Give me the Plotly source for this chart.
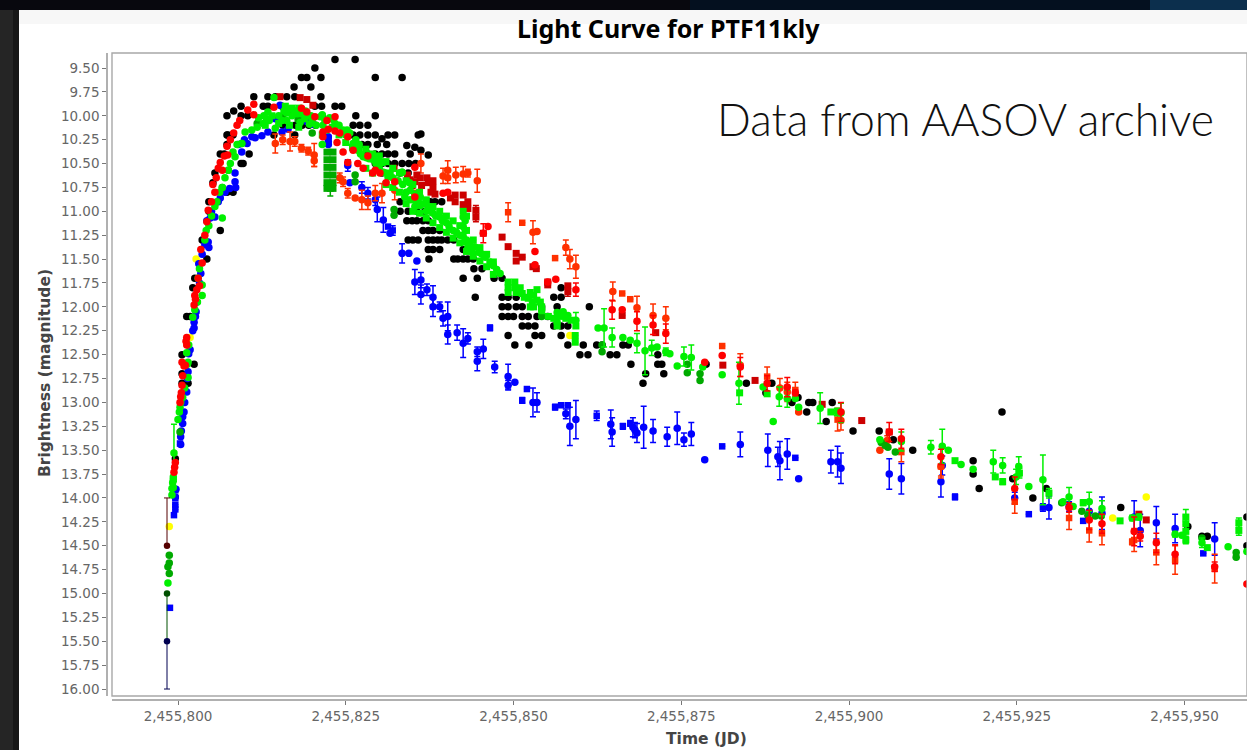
import plotly.graph_objects as go

JD_BASE = 2455800
TITLE = "Light Curve for PTF11kly"
NOTE = "Data from AASOV archive"
X_TITLE = "Time (JD)"
Y_TITLE = "Brightness (magnitude)"
X_TICKS = [2455800, 2455825, 2455850, 2455875, 2455900, 2455925, 2455950]
Y_TICKS = [9.5, 9.75, 10, 10.25, 10.5, 10.75, 11, 11.25, 11.5, 11.75, 12, 12.25, 12.5, 12.75,
           13, 13.25, 13.5, 13.75, 14, 14.25, 14.5, 14.75, 15, 15.25, 15.5, 15.75, 16]

# (days after JD 2455800, magnitude) ------------------------------------------------
black = [
 (23.4,9.41),(26.4,9.41),(20.4,9.5),(18.4,9.6),(19.2,9.6),(21.3,9.6),(29.4,9.6),(33.4,9.6),(17.3,9.7),(19.8,9.7),
 (11.3,9.8),(13.4,9.8),(14.5,9.8),(16.2,9.8),(17.4,9.8),(21.3,9.8),
 (9.4,9.9),(12.7,9.9),(13.4,9.9),(15.5,9.9),(20.4,9.9),(21.4,9.9),(23.4,9.9),(24.4,9.9),(8.3,9.95),
 (7.3,10),(9.4,10),(10.4,10),(21.5,10),(26.5,10),(29.4,10),
 (15.6,10.1),(16.5,10.1),(17.5,10.1),(18.5,10.1),(19.5,10.1),(20.5,10.1),(26.1,10.1),(27.1,10.1),(28.3,10.1),
 (7.3,10.2),(8,10.2),(14.3,10.2),(17.4,10.2),(26.1,10.2),(27.1,10.2),(28.3,10.2),(29.4,10.2),(31.3,10.2),(32.3,10.2),(35.8,10.2),(36.2,10.19),
 (27.4,10.3),(28.3,10.3),(29.7,10.3),(31.1,10.3),(34.1,10.31),(35.3,10.33),(36.2,10.36),(37.3,10.41),(30.4,10.24),
 (6.3,10.4),(6.9,10.4),(10.6,10.4),(28.3,10.4),(29.4,10.4),(30.4,10.4),(31.3,10.4),(32.3,10.4),(34.6,10.4),
 (9.7,10.5),(29.4,10.5),(30.4,10.5),(31.3,10.5),(32.3,10.5),(33.4,10.5),(34.4,10.5),(35.4,10.5),
 (5.5,10.6),(30.4,10.6),(33.1,10.6),(34.3,10.6),(5.2,10.7),(8.2,10.8),(7.3,10.8),(4.6,11),(6.3,11.2),(3.6,11.3),
 (33.1,10.9),(37.6,10.9),(38.3,10.9),(39.3,10.9),(33.1,11),(34.3,11),(35.6,11),(36.8,11),
 (34.1,11.1),(34.9,11.1),(35.6,11.1),(36.5,11.1),(37.3,11.1),(36.5,11.2),(37.3,11.2),(38,11.2),(39,11.2),
 (34.3,11.3),(35,11.3),(35.8,11.3),(37.3,11.3),(38,11.3),(38.7,11.3),(39.3,11.3),(40.2,11.3),(41.1,11.3),
 (37.3,11.4),(38,11.4),(39,11.4),(42.5,11.4),(37.4,11.5),(41.1,11.5),(41.7,11.5),(42.5,11.5),(43.2,11.5),(44,11.5),
 (44.1,11.6),(45.3,11.6),(42.5,11.7),(44.6,11.7),(47.1,11.7),(48.3,11.7),(44.3,11.9),
 (57.1,11.8),(61.3,12),(48.3,11.9),(49.2,11.9),(50.4,11.9),(56,11.9),(57.1,11.9),
 (48.3,12),(49.2,12),(50.4,12),(51.3,12),(54.2,12),(56.5,12),
 (48.3,12.1),(49.2,12.1),(50,12.1),(51.3,12.1),(52.2,12.1),(53.5,12.1),(55.1,12.1),
 (51.3,12.2),(52.2,12.2),(53.2,12.2),(56,12.2),(57.1,12.2),(58.1,12.2),
 (49.2,12.3),(53.2,12.3),(54.2,12.3),(57.1,12.3),
 (50.2,12.4),(52.3,12.4),(58.1,12.4),(60.4,12.4),(62.4,12.4),(63.2,12.4),(66.3,12.4),(67.1,12.4),
 (59.9,12.5),(61.1,12.5),(64.4,12.5),(65.4,12.5),(71.5,12.5),(67.5,12.6),(71.5,12.6),(72.1,12.6),
 (69.7,12.7),(72.4,12.7),(69.3,12.8),(78.7,12.6),(84.7,12.8),(88.5,12.8),(87.6,12.9),(91.5,13),(92.4,12.95),(93.7,13.1),
 (94,13),(94.6,13),(97.5,13),(96.6,13.2),(100.6,13.3),(104.5,13.3),(106.6,13.39),(109.5,13.5),
 (122.8,13.1),(118.5,13.61),(118.5,13.75),(119.4,13.9),(124.4,13.8),(127.4,14),(129.4,13.9),(140.5,14.1),(150.5,14.3),
 (152.6,14.4),(153.4,14.4),(159.3,14.2),(159.3,14.5),
 (2.5,11.7),(2.2,11.8),(1.3,12.1),(1.8,12.1),(0.6,12.5),(2.4,12.6),(0.6,12.7),(1.5,12.8),(0.6,12.8),(-0.4,13.59),(4.3,11.5),
 (4.6,10.9),(7.4,10.2),(8.2,10.2),(7.3,10.3),(9.4,10.5),
]
yellow = [(-1.3,14.3),(2.7,11.5),(58.4,12.3),(139.3,14.21),(144.3,13.99),(1.8,12.32)]

# (days, magnitude, error half-height) ----------------------------------------------
blue_circles = [
 (29.7,10.98,.13),(30.6,11.09,.13),(31.6,11.23,0),(33.4,11.44,.1),(34.4,11.44,0),(35.6,11.52,0),(35.3,11.74,.13),(36.2,11.72,.08),
 (36.2,11.87,.1),(37.1,11.82,.06),(38,11.9,.12),(38,12,.1),(39,12,.05),(39.5,12.12,.08),(40.2,12.1,.15),(40.2,12.29,.1),(41.6,12.27,.08),
 (42.5,12.38,.15),(43.2,12.33,.06),(44.6,12.47,.05),(45.5,12.44,.1),(44.6,12.57,.1),(47.2,12.63,.06),
 (25.6,10.7,0),(27.4,10.75,.06),(28.3,10.81,.06),(29.4,10.88,.06),(25.3,10.52,.06),(22.4,10.22,0),(22.4,10.27,0),
 (49.2,12.73,.13),(49.2,12.82,.05),(50.2,12.79,0),(52.9,13,.15),(53.5,13,.1),(57.8,13.12,.05),(58.4,13.25,.2),(59.3,13.18,.2),
 (64.5,13.23,.15),(64.7,13.31,.15),(67.8,13.26,.1),(68.1,13.29,.08),(68.4,13.32,.1),(69.4,13.26,.22),(70.8,13.3,.12),(72.9,13.36,.1),
 (74.4,13.27,.17),(75.4,13.39,.07),(76.5,13.33,.12),(78.5,13.6,0),(83.8,13.44,.13),(87.9,13.5,.17),(89.4,13.57,.1),(89.7,13.61,.2),
 (90.8,13.54,.16),(92.5,13.8,0),(97.3,13.62,.12),(98.3,13.62,.16),(98.8,13.69,.16),(106,13.75,.16),(107.8,13.8,.16),(113.7,13.83,.16),
 (113.9,13.66,.1),(124.7,14,.06),(129.8,14.1,.12),(132.8,14.09,.05),(135.8,14.14,.1),(137.7,14.16,.17),(142.5,14.2,.17),(143.4,14.34,.17),
 (145.8,14.26,.17),(148.6,14.32,.15),(154.5,14.43,.17),
 (14.5,10.03,0),(13.4,10.17,0),(12.5,10.21,0),(11.5,10.23,0),(10.3,10.29,0),(9.5,10.38,0),(8.5,10.6,0),(8.5,10.69,0),(8.6,10.75,0),(7.7,10.76,0),
 (6.3,10.86,0),(5.5,11.06,0),(4.8,11.07,0),(4.5,11.32,0),(4.6,11.38,0),(15.5,10.17,0),(16.4,10.14,0),(18.2,10.04,0),(19.2,10.06,0),(20.1,10.09,0),
 (15.2,9.89,0),(22.4,10.23,.08),(22.4,10.3,0),
 (3.4,11.65,0),(2.8,11.95,0),(2.7,12.05,0),(2.4,12.16,0),(2.4,12.22,0),(1.6,12.49,0),(1.5,12.68,0),(1.3,12.89,0),(.7,13.15,0),(.7,13.22,0),
 (.4,13.36,0),(.4,13.44,0),(-.3,13.91,0),(-.4,13.99,0),
 (7,10.8,0),(6,10.9,0),(9,10.3,0),(9.9,10.25,0),(11,10.22,0),(3.1,11.55,0),(4,11.35,0),(4.3,11.1,0),(5,11,0),(3.6,11.45,0),(2.6,12.1,0),(2.2,12.25,0),
 (1.8,12.45,0),(1.4,12.75,0),(1,13,0),(.9,13.1,0),(.5,13.3,0),(3.2,11.75,0),
]
blue_squares = [
 (31.3,11.16,0),(32,11.2,.05),(46.5,12.22,.03),(52,12.86,0),(51.3,12.98,.03),(56.2,13.05,.03),(57.1,13.03,0),(58.1,13.03,0),(62.4,13.14,.05),
 (66.3,13.25,.03),(67.4,13.22,.03),(81.1,13.46,0),(92,13.58,0),(115.8,13.99,.03),(126.8,14.17,0),(128.9,14.1,.04),(134.9,14.24,0),(152.8,14.58,0),
 (.3,13.43,0),(-.4,13.92,0),(-.4,14,0),(-.4,14.07,0),(-.4,14.12,0),(-.6,14.18,0),(-1.2,15.15,0),
]
orange_circles = [
 (14.5,10.29,.1),(15.6,10.25,.05),(16.7,10.27,.1),(17.4,10.27,.05),(18.4,10.34,.04),(19.4,10.37,.04),(20.3,10.41,.12),(20.3,10.47,.06),
 (24.1,10.65,.05),(24.6,10.69,.05),(25.3,10.81,.05),(26.4,10.86,0),(27.4,10.88,.1),(28.3,10.91,.07),(29.4,10.81,.08),(30.4,10.81,.1),(32.3,10.78,.1),
 (35.3,10.81,0),(36.2,10.5,.1),(39.5,10.63,.08),(40.2,10.57,.1),(40.2,10.65,.06),(41.4,10.62,.08),(42.5,10.61,.08),(43.2,10.6,.04),(44.6,10.68,.12),
 (52.9,11.22,.12),(53.5,11.21,0),(57.8,11.38,.08),(58.4,11.5,.1),(59.3,11.58,.12),(64.8,11.84,.1),(68.4,12.01,.12),(70.8,12.09,.12),(72.7,12.12,.12),
 (83.8,12.61,.12),(89.7,12.85,.1),(90.8,12.89,.1),(92.5,13.1,0),(98.8,13.19,.1),(104.6,13.5,0),(105.7,13.4,.05),(113.7,13.67,.1),
]
orange_squares = [
 (49.2,11.01,.1),(51.3,11.12,0),(56.2,11.49,0),(66.2,11.86,0),(67.4,11.92,0),(81.1,12.41,0),(87.8,12.73,.1),(92,12.87,.08),(98.3,13.18,.12),(107.8,13.52,.1),
 (113.7,13.67,.12),(124.7,14.04,.12),(132.8,14.21,.12),(135.8,14.34,.12),(137.7,14.37,.12),(142.2,14.46,.03),(142.5,14.44,.12),(145.8,14.57,.13),(148.6,14.65,.15),(154.5,14.74,.15),
]
red_circles = [
 (10.4,9.94,0),(11.3,9.88,0),(11.3,9.99,0),(8.8,10.1,0),(7.3,10.32,0),(7.4,10.41,0),(6.3,10.49,0),(6.6,10.57,0),(5.2,10.72,0),(5.5,10.8,0),
 (4.5,10.99,0),(4.3,11.11,0),(3.4,11.4,0),(14.3,9.91,0),(18.4,9.92,0),(19.2,9.96,0),(20.4,10.01,0),(22.2,10.05,0),(23.4,10.01,0),(23.4,10.16,0),
 (21.6,10.17,0),(21.6,10.22,0),(22.4,10.14,0),(23.7,10.28,0),(24.1,10.18,0),(25.3,10.22,0),(24.6,10.38,0),(25.3,10.49,0),(26.1,10.36,0),(28.3,10.42,0),
 (29.4,10.57,0),(32.3,10.69,0),(35.3,10.54,0),(35.3,10.85,0),(30.1,10.6,0),(39.5,10.81,0),(40.2,10.8,0),(45.5,11.23,.1),(46.2,11.16,0),(53.2,11.42,0),
 (53.2,11.56,0),(55.1,11.74,0),(56.3,11.71,0),(59.3,11.82,.07),(64.7,12.03,.1),(66.2,12.03,0),(68.4,12.15,.1),(70.8,12.19,.1),(72.7,12.28,.1),(78.5,12.58,0),
 (81.1,12.51,0),(83.8,12.63,.1),(87.8,12.8,.08),(90.8,12.84,.1),(92,12.9,.03),(98.8,13.1,.1),(106,13.31,.1),(107.8,13.38,.1),(113.7,13.57,.08),
 (124.7,13.9,.12),(132.8,14.1,.05),(135.8,14.23,.1),(137.7,14.27,.1),(142.5,14.35,.15),(143.4,14.4,.05),(145.8,14.47,.1),(148.6,14.59,.1),(154.5,14.72,.05),(159.3,14.9,0),
 (3.6,11.54,0),(2.8,11.82,0),(2.5,11.88,0),(2.4,11.98,0),(1.3,12.32,0),(1.3,12.4,0),(.6,12.58,0),(1.1,12.61,0),(.6,12.82,0),(.4,12.94,0),(-.4,13.63,0),(-.6,13.73,0),
 (5,10.9,0),(5.7,10.65,0),(6,10.55,0),(6.9,10.42,0),(7.8,10.25,0),(8.3,10.18,0),(9.2,10.05,0),(4,11.25,0),(3,11.7,0),(3.2,11.78,0),(2.6,11.92,0),(1.2,12.36,0),(.9,12.62,0),
 (.7,12.72,0),(.5,12.9,0),(.3,13,0),(-.5,13.68,0),(26.8,10.5,0),(27.6,10.55,0),(29,10.6,0),(31,10.7,0),
]
darkred_squares = [
 (18.2,9.81,0),(19.2,9.83,0),(20.1,9.89,0),(15.2,9.8,0),(32.2,10.55,0),(34.6,10.67,0),(35.3,10.69,0),(36.1,10.65,0),(37.1,10.65,0),(38,10.75,0),
 (34.9,10.73,0),(35.6,10.62,0),(36.3,10.73,0),(37.3,10.7,0),(38,10.68,0),(38.3,10.82,0),(41.3,10.9,0),(42.5,10.93,0),(43.2,10.9,0),(42.5,10.83,0),(44.4,10.99,.05),(44.4,11.06,.05),
 (45.5,11.23,0),(48.3,11.27,0),(49.2,11.37,0),(50.4,11.44,0),(50.4,11.52,0),(51.3,11.48,0),(52.9,11.58,0),(53.4,11.6,0),(55.1,11.74,0),(55.1,11.77,0),(58.1,11.78,0),(58.1,11.84,.05),
 (66.2,12.09,0),(71.2,12.27,0),(81.2,12.61,0),(86,12.77,0),(96,13.02,0),(101.9,13.19,0),(106,13.31,0),(143.2,14.17,0),(144.3,14.23,0),
 (41.3,10.83,0),(43.2,10.97,0),(40.6,10.86,0),(34.2,10.62,0),(37.7,10.8,0),
]
green_circles = [
 (21.2,10.01,0),(21.6,10.1,0),(23.1,10.04,0),(24.6,10.15,0),(25.6,10.18,0),(26.1,10.29,0),(26.8,10.36,0),(27.6,10.43,0),(29.1,10.46,0),(29.9,10.47,0),(30.6,10.59,0),(31.3,10.64,0),(33.4,10.59,0),
 (34.6,10.78,0),(34.6,10.88,0),(35.3,10.82,0),(36.1,10.85,0),(36.1,10.94,0),(37.3,10.95,0),(38,11.02,0),(39,11.06,0),(40,11.12,0),(41,11.2,0),(42.5,11.06,0),(42.5,11.16,0),(42.5,11.26,0),
 (43.5,11.33,0),(43,11.3,0),(43.8,11.41,0),(45.3,11.45,0),(46.5,11.53,0),(47.5,11.61,0),
 (6.6,11.07,0),(5.5,10.95,0),(7.5,10.57,0),(6.6,10.75,0),(8.5,10.43,0),(9.5,10.29,0),(10,10.17,0),(11.8,10.12,0),(12.7,10.08,0),(13.4,9.96,0),(13.2,10.03,0),(14.3,9.81,0),(14.5,10.13,0),
 (15.5,10.05,0),(16.2,9.97,0),(16.2,10.05,0),(17,10,0),(17.8,9.98,0),(18.2,10.07,0),(18.9,10.03,0),(19.6,10.09,0),(20,10.04,0),(21.5,9.99,0),(21.5,10.3,0),(23.4,10.08,0),(25.2,10.15,0),(28.1,10.44,0),(30.1,10.49,0),(30.6,10.49,0),(31.6,10.6,0),(33.4,10.59,0),(33.8,10.85,0),(35.3,10.95,0),
 (56.5,12.06,0),(57.4,12.05,0),(58.1,12.09,0),(59.3,12.14,.08),(56.5,12.16,0),(62.6,12.22,0),(63.5,12.22,.2),(64.7,12.32,.1),(66.3,12.32,0),(67.4,12.35,0),(68.4,12.38,.1),(69.6,12.46,.25),(70.6,12.43,.08),(71.4,12.42,0),
 (72.7,12.47,.04),(73.3,12.49,0),(74.4,12.62,0),(75.4,12.52,.1),(76.5,12.53,.13),(78.2,12.63,0),(81.1,12.71,0),(83.6,12.8,.22),(87.2,12.84,0),(88.7,13.2,0),(89.6,12.94,.1),(90.8,12.96,.09),(92,12.96,0),(92.5,13.05,0),
 (95.7,13.06,.16),(98.2,13.1,.04),(98.8,13.11,.1),(104.6,13.39,0),(107.8,13.41,.1),(112.2,13.47,.07),(113.9,13.46,.18),(114.8,13.5,0),(116.7,13.65,0),(118.5,13.7,0),
 (121.5,13.62,.12),(122.9,13.66,.08),(124.9,13.78,.08),(125.3,13.67,.1),(126.8,13.88,0),(128.9,13.81,.26),(132.8,13.99,.1),(133.4,14.09,0),(131.9,14.04,0),(135.8,14.04,.1),(137.7,14.11,.08),(142.2,14.21,.03),(143.2,14.2,.03),
 (148.6,14.38,.03),(149.6,14.39,0),(152.6,14.47,.05),(156.5,14.51,0),(159.3,14.56,0),
 (3.6,11.77,0),(3.6,11.88,0),(2.5,12.03,0),(2.2,12.11,0),(1.3,12.48,0),(1.5,12.58,0),(1.5,12.74,0),(.3,13.05,0),(0,13.18,0),(-.6,13.53,.3),(-.7,13.81,0),(-.7,13.89,0),(-.7,13.78,0),(-.8,13.84,0),(-.9,13.9,0),(-.9,13.97,0),
 (-1.5,14.89,0),
 (27.2,10.4,0),(28.5,10.45,0),(29.5,10.5,0),(30,10.55,0),(31,10.6,0),(32,10.65,0),(32.8,10.68,0),(33.5,10.72,0),(34,10.8,0),(34.5,10.7,0),(35,10.88,0),(35.8,10.9,0),(36.6,10.92,0),
 (37,11,0),(37.7,11,0),(38.4,11.05,0),(39.4,11.1,0),(40.4,11.16,0),(41.5,11.22,0),(42,11.25,0),(42.8,11.1,0),(42.8,11.2,0),(42.8,11.32,0),(43.2,11.38,0),(44.2,11.37,0),(44.8,11.43,0),(45.8,11.48,0),(47,11.57,0),(48,11.65,0),
 (11,10.15,0),(12,10.02,0),(12.8,10,0),(13.6,10.05,0),(15,10,0),(15.8,9.95,0),(16.6,9.93,0),(17.4,9.95,0),(18.4,9.98,0),(19,9.95,0),(19.8,10,0),(20.6,10.1,0),(21.9,10.05,0),(22.6,10.02,0),(24,10.1,0),(25,10.2,0),(26.5,10.25,0),(27,10.3,0),
 (4,11.3,0),(4.2,11.2,0),(4.6,11.15,0),(5,11.05,0),(5.8,10.9,0),(6.2,10.8,0),(7,10.65,0),(7.8,10.5,0),(8.2,10.38,0),(8.8,10.3,0),(2.9,11.95,0),(3,11.7,0),(3.2,11.6,0),(1.6,12.4,0),(1.4,12.6,0),
 (1,12.85,0),(.7,12.95,0),(.4,13,0),(.2,13.1,0),
]
green_squares = [
 (49.2,11.74,0),(49.2,11.85,0),(50.2,11.74,0),(50.4,11.85,0),(51.3,11.86,0),(52.2,11.91,0),(53.5,11.82,0),(53.5,11.93,0),(52.8,11.95,0),(54.2,12,0),(54.2,12.04,0),(59.2,12.37,0),(59.2,12.3,0),
 (49.2,11.8,0),(50.2,11.8,0),(51,11.8,0),(51.6,11.9,0),(52.5,11.85,0),(53,11.88,0),(53,12,0),(52.5,12,0),(54,11.95,0),(55.2,12.1,0),(56,12.12,0),(56.5,12.2,0),(57,12.1,0),(57.8,12.12,0),(58.6,12.14,0),(59.3,12.2,0),
 (83.7,12.9,0),(87.8,12.91,0),(97.3,13.1,0),(115.8,13.61,0),(121.8,13.78,0),(122.9,13.83,.03),(125.4,13.74,.05),(129.8,13.95,.05),(134.9,14.05,.03),(140.4,14.24,0),
 (150.2,14.2,.08),(150.2,14.27,.08),(150.2,14.35,.1),(150.2,14.44,.04),(153.4,14.52,0),(158.1,14.26,.05),(158.1,14.34,.05),
 (28,10.35,0),(28,10.55,0),(29,10.4,0),(29,10.6,0),(30,10.42,0),(31,10.48,0),(31,10.72,0),(32,10.55,0),(32,10.75,0),(33,10.6,0),(33,10.8,0),(34,10.68,0),(34,10.92,0),(35,10.72,0),(35,11,0),
 (36,10.8,0),(36,11.02,0),(37,10.88,0),(37,11.07,0),(38,10.95,0),(38,11.12,0),(39,11,0),(39,11.17,0),(40,11.05,0),(40,11.22,0),(41,11.1,0),(41,11.28,0),(42,11.15,0),(42,11.33,0),(42.5,11,0),
 (43,11.05,0),(43,11.2,0),(43,11.42,0),(44,11.3,0),(44,11.47,0),(45,11.38,0),(45,11.52,0),(46,11.45,0),(46,11.58,0),(47,11.53,0),(47,11.66,0),
 (15,10.08,0),(16,9.9,0),(17,9.92,0),(18,9.92,0),(19,10,0),(16.6,10.1,0),(18,10.12,0),(13,10.1,0),(14,10,0),(22,10.15,0),(23,10.12,0),(24,10.2,0),(25,10.28,0),(26,10.33,0),(27,10.35,0),(21.5,10.2,0),
]
darkgreen_squares = [
 (22.2,10.38,0),(23.1,10.38,0),(22.2,10.46,0),(23.1,10.46,0),(22.2,10.54,0),(23.1,10.54,0),(22.2,10.62,0),(23.1,10.62,0),(22.2,10.7,0),(23.1,10.7,0),(22.2,10.76,0),(22.7,10.76,.08),(23.1,10.76,0),
]
darkgreen_circles = [
 (26.4,10.69,0),(26.4,10.62,0),(32.2,11.04,0),(32.2,10.98,0),(54.2,12.1,0),(54.2,12.03,0),(63.2,12.47,0),(63.2,12.4,0),(75.9,12.69,0),(75.9,12.6,0),(77.8,12.77,0),(77.8,12.7,0),
 (105.8,13.47,0),(106.9,13.52,0),(104.8,13.42,0),(105.4,13.45,0),(131.7,14.05,0),(134.7,14.14,0),(135.6,14.18,0),(136.7,14.19,0),(137.6,14.19,0),(152.6,14.42,0),(157.7,14.62,0),(157.7,14.57,0),
 (6.6,10.75,0),(7.5,10.57,0),(9.5,10.29,0),(11.8,10.08,0),(15.6,10.0,0),(17,9.96,0),(17.9,10.04,0),(20,10.18,0),(.3,13.31,0),
 (-1.3,14.6,0),(-1.3,14.68,0),(-1.5,14.72,0),(-1.3,14.79,0),
]
# earliest detections, with their long error bars: (days, mag, err down, err up, colour)
first_points = [(-1.64,14.5,0,.5,"#550000"),(-1.64,15,0.5,0,"#005000"),(-1.64,15.5,.5,0,"#000050")]


def series(points, color, symbol, size=7.5):
    xs = [JD_BASE + p[0] for p in points]
    ys = [p[1] for p in points]
    trace = dict(x=xs, y=ys, mode="markers", showlegend=False, hoverinfo="x+y",
                 marker=dict(color=color, size=size, symbol=symbol, line=dict(width=0)))
    if len(points[0]) > 2:
        trace["error_y"] = dict(type="data", array=[p[2] for p in points], color=color,
                                thickness=1.5, width=3, visible=True)
    return go.Scatter(**trace)


fig = go.Figure()
fig.add_trace(series(black, "#000000", "circle"))
fig.add_trace(series(yellow, "#ffff00", "circle"))
fig.add_trace(series(blue_circles, "#0000ff", "circle"))
fig.add_trace(series(blue_squares, "#0000ff", "square", 6.5))
fig.add_trace(series(orange_circles, "#ff3000", "circle"))
fig.add_trace(series(orange_squares, "#ff3000", "square", 6.5))
fig.add_trace(series(darkred_squares, "#cc0000", "square", 7))
fig.add_trace(series(darkgreen_squares, "#00aa00", "square", 7))
fig.add_trace(series(darkgreen_circles, "#00aa00", "circle"))
fig.add_trace(series(green_squares, "#00f000", "square", 7))
fig.add_trace(series(green_circles, "#00f000", "circle"))
fig.add_trace(series(red_circles, "#ff0000", "circle"))
for d, m, down, up, col in first_points:
    fig.add_trace(go.Scatter(x=[JD_BASE + d], y=[m], mode="markers", showlegend=False,
                             marker=dict(color=col, size=6.5),
                             error_y=dict(type="data", symmetric=False, array=[down], arrayminus=[up],
                                          color=col, thickness=1, width=3)))

W, H = 1247, 750
L, R, T, B = 112, 1247, 53, 696
shapes = [
    dict(type="rect", xref="paper", yref="paper", x0=L / W, x1=1, y0=1 - B / H, y1=1 - T / H,
         line=dict(color="#a8a8a8", width=1.4), fillcolor="rgba(0,0,0,0)", layer="above"),
    dict(type="rect", xref="paper", yref="paper", x0=0, x1=19 / W, y0=0, y1=1,
         line=dict(width=0), fillcolor="#252525", layer="above"),
    dict(type="rect", xref="paper", yref="paper", x0=13 / W, x1=19 / W, y0=0, y1=1,
         line=dict(width=0), fillcolor="#171717", layer="above"),
    dict(type="rect", xref="paper", yref="paper", x0=0, x1=1, y0=1 - 10 / H, y1=1,
         line=dict(width=0), fillcolor="#08080e", layer="above"),
    dict(type="rect", xref="paper", yref="paper", x0=690 / W, x1=1, y0=1 - 10 / H, y1=1,
         line=dict(width=0), fillcolor="#04101f", layer="above"),
    dict(type="rect", xref="paper", yref="paper", x0=1150 / W, x1=1, y0=1 - 10 / H, y1=1,
         line=dict(width=0), fillcolor="#0c2f4d", layer="above"),
    dict(type="rect", xref="paper", yref="paper", x0=19 / W, x1=1, y0=1 - 24 / H, y1=1 - 10 / H,
         line=dict(width=0), fillcolor="#f7f7f7", layer="below"),
]
tickfont = dict(family="DejaVu Sans", size=13.5, color="#666666")
fig.update_layout(
    width=W, height=H, margin=dict(l=0, r=0, t=0, b=0), autosize=False,
    paper_bgcolor="white", plot_bgcolor="white", showlegend=False, shapes=shapes,
    xaxis=dict(domain=[L / W, 1], range=[JD_BASE + (L - 178) / 6.71, JD_BASE + (R - 178) / 6.71],
               tickvals=X_TICKS, tickformat=",d", anchor="free", position=1 - 700 / H,
               showgrid=False, zeroline=False, showline=True, linecolor="#b0b0b0", linewidth=1.5,
               ticks="outside", ticklen=4, tickcolor="#777777", tickfont=tickfont),
    yaxis=dict(domain=[1 - B / H, 1 - T / H], range=[16.073, 9.343],
               tickvals=Y_TICKS, tickformat=".2f", anchor="free", position=107 / W,
               showgrid=False, zeroline=False, showline=True, linecolor="#b0b0b0", linewidth=1.5,
               ticks="outside", ticklen=4, tickcolor="#777777", tickfont=tickfont),
    annotations=[
        dict(text=f"<b>{TITLE}</b>", xref="paper", yref="paper", x=668 / W, y=1 - 28 / H, showarrow=False,
             xanchor="center", yanchor="middle", font=dict(family="Noto Sans", size=25, color="#000000")),
        dict(text=NOTE, xref="paper", yref="paper", x=965 / W, y=1 - 118 / H, showarrow=False,
             xanchor="center", yanchor="middle", font=dict(family="Lato", size=44.5, color="#111111", weight=300)),
        dict(text=f"<b>{X_TITLE}</b>", xref="paper", yref="paper", x=707 / W, y=1 - 739 / H, showarrow=False,
             xanchor="center", yanchor="middle", font=dict(family="DejaVu Sans", size=15.5, color="#444444")),
        dict(text=f"<b>{Y_TITLE}</b>", xref="paper", yref="paper", x=45 / W, y=1 - 373 / H, showarrow=False,
             textangle=-90, xanchor="center", yanchor="middle", font=dict(family="DejaVu Sans", size=15.5, color="#444444")),
    ],
)
fig.write_html("out.html", config={"displayModeBar": False},
               post_script="document.body.style.margin='0';document.body.style.overflow='hidden';")
